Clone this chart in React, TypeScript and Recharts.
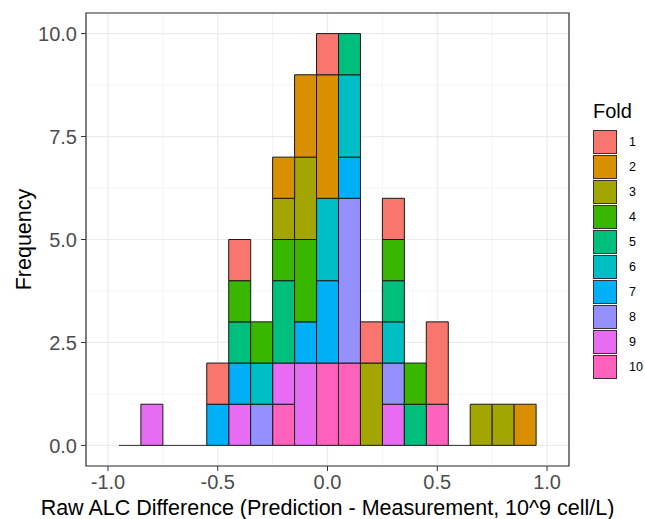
import React from 'react';
import { ComposedChart, Bar, XAxis, YAxis, CartesianGrid, ReferenceLine, ReferenceArea, Label } from 'recharts';

// bin centres (width 0.1)
const bins = [-0.9, -0.8, -0.7, -0.6, -0.5, -0.4, -0.3, -0.2, -0.1, 0.0, 0.1, 0.2, 0.3, 0.4, 0.5, 0.6, 0.7, 0.8, 0.9];

const folds = ['1', '2', '3', '4', '5', '6', '7', '8', '9', '10'];
const foldColors = ['#F8766D', '#D89000', '#A3A500', '#39B600', '#00BF7D', '#00BFC4', '#00B0F6', '#9590FF', '#E76BF3', '#FF62BC'];

// counts per bin, one row per fold
const fold1 = [0, 0, 0, 0, 1, 1, 0, 0, 0, 1, 0, 1, 1, 0, 2, 0, 0, 0, 0];
const fold2 = [0, 0, 0, 0, 0, 0, 0, 1, 2, 3, 0, 0, 0, 0, 0, 0, 0, 0, 1];
const fold3 = [0, 0, 0, 0, 0, 0, 0, 1, 2, 0, 0, 2, 0, 0, 0, 0, 1, 1, 0];
const fold4 = [0, 0, 0, 0, 0, 1, 1, 1, 2, 0, 0, 0, 1, 1, 0, 0, 0, 0, 0];
const fold5 = [0, 0, 0, 0, 0, 1, 0, 2, 0, 0, 1, 0, 1, 1, 0, 0, 0, 0, 0];
const fold6 = [0, 0, 0, 0, 0, 0, 1, 0, 0, 2, 2, 0, 1, 0, 0, 0, 0, 0, 0];
const fold7 = [0, 0, 0, 0, 1, 1, 0, 0, 1, 2, 1, 0, 0, 0, 0, 0, 0, 0, 0];
const fold8 = [0, 0, 0, 0, 0, 0, 1, 0, 0, 0, 4, 0, 1, 0, 0, 0, 0, 0, 0];
const fold9 = [0, 1, 0, 0, 0, 1, 0, 1, 2, 0, 0, 0, 1, 0, 0, 0, 0, 0, 0];
const fold10 = [0, 0, 0, 0, 0, 0, 0, 1, 0, 2, 2, 0, 0, 0, 1, 0, 0, 0, 0];
const foldCounts = [fold1, fold2, fold3, fold4, fold5, fold6, fold7, fold8, fold9, fold10];

const xTicks = [-1.0, -0.5, 0.0, 0.5, 1.0];
const xMinor = [-0.75, -0.25, 0.25, 0.75];
const yTicks = [0, 2.5, 5, 7.5, 10];
const yMinor = [1.25, 3.75, 6.25, 8.75];
const xDomain = [-1.1, 1.1];
const yDomain = [-0.5, 10.5];
const binWidth = 0.1;

const data = bins.map((b, i) => {
  const row: any = { x: b };
  folds.forEach((f, k) => { row['f' + f] = foldCounts[k][i]; });
  return row;
});

const FONT = '"Liberation Sans", Arial, sans-serif';

// minor grid positions from the plot offset and the axis domains
const minorX = ({ offset }: any) =>
  xMinor.map(v => offset.left + ((v - xDomain[0]) / (xDomain[1] - xDomain[0])) * offset.width);
const minorY = ({ offset }: any) =>
  yMinor.map(v => offset.top + ((yDomain[1] - v) / (yDomain[1] - yDomain[0])) * offset.height);

const App: React.FC = () => {
  return (
    <div style={{ position: 'absolute', left: 0, top: 0, width: 645, height: 519, background: '#fff', fontFamily: FONT }}>
      <ComposedChart width={645} height={519} data={data} margin={{ top: 13, right: 76, bottom: 0, left: 0 }}
        barCategoryGap={0} barGap={0} style={{ fontFamily: FONT }}>
        <CartesianGrid stroke="#EBEBEB" strokeWidth={1.2} />
        <CartesianGrid stroke="#EBEBEB" strokeWidth={0.6}
          verticalCoordinatesGenerator={minorX} horizontalCoordinatesGenerator={minorY} />
        <XAxis dataKey="x" type="number" domain={xDomain} ticks={xTicks} interval={0} height={53}
          tickFormatter={(v: number) => v.toFixed(1)} axisLine={false} stroke="#333" tickSize={5} tickMargin={4}
          tick={{ fill: '#4D4D4D', fontSize: 20 }}>
          <Label value="Raw ALC Difference (Prediction - Measurement, 10^9 cell/L)" position="insideBottom" offset={4}
            style={{ fill: '#000', fontSize: 21.5 }} />
        </XAxis>
        <YAxis type="number" domain={yDomain} ticks={yTicks} interval={0} width={86} allowDataOverflow
          tickFormatter={(v: number) => v.toFixed(1)} axisLine={false} stroke="#333" tickSize={5} tickMargin={4}
          tick={{ fill: '#4D4D4D', fontSize: 20 }}>
          <Label content={({ viewBox }: any) => (
            <text x={24} y={viewBox.y + viewBox.height / 2} transform={`rotate(-90, 24, ${viewBox.y + viewBox.height / 2})`}
              textAnchor="middle" dominantBaseline="central" fontSize={21.5} fill="#000" fontFamily={FONT}>Frequency</text>
          )} />
        </YAxis>
        {folds.slice().reverse().map(f => {
          const k = folds.indexOf(f);
          return (
            <Bar key={f} dataKey={'f' + f} stackId="a" fill={foldColors[k]} stroke="#1a1a1a" strokeWidth={1}
              isAnimationActive={false} />
          );
        })}
        <ReferenceLine segment={[{ x: bins[0] - binWidth / 2, y: 0 }, { x: bins[bins.length - 1] + binWidth / 2, y: 0 }]}
          stroke="#333" strokeWidth={1} />
        <ReferenceArea x1={xDomain[0]} x2={xDomain[1]} y1={yDomain[0]} y2={yDomain[1]} fill="none" fillOpacity={0}
          stroke="#333" strokeWidth={1.2} ifOverflow="visible" />
      </ComposedChart>
      <svg width={60} height={300} style={{ position: 'absolute', left: 585, top: 95 }}>
        <text x={8} y={23} fontSize={20} fill="#000" fontFamily={FONT}>Fold</text>
        {folds.map((f, i) => (
          <g key={f}>
            <rect x={8.5} y={35.5 + 25 * i} width={23} height={23} fill={foldColors[i]} stroke="#333" strokeWidth={1} />
            <text x={44} y={47 + 25 * i} dy="0.355em" fontSize={12.5} fill="#000" fontFamily={FONT}>{f}</text>
          </g>
        ))}
      </svg>
    </div>
  );
};

export default App;
